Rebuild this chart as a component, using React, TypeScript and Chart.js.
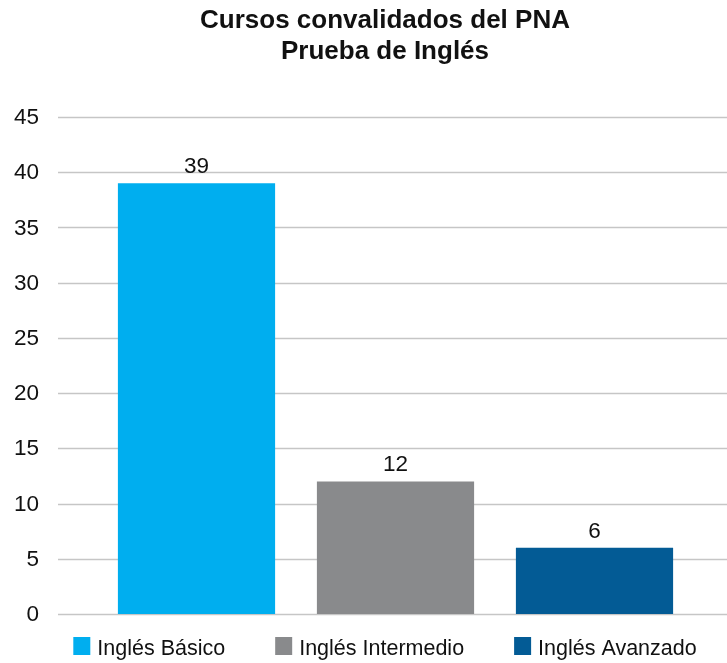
import React, { useEffect, useRef } from "react";
import { Chart, registerables } from "chart.js";

Chart.register(...registerables);

const titleLines = ["Cursos convalidados del PNA", "Prueba de Inglés"];
const categories = ["Inglés Básico", "Inglés Intermedio", "Inglés Avanzado"];
const values = [39, 12, 6];
const barColors = ["#00AEEF", "#898A8C", "#035B95"];
const yMin = 0;
const yMax = 45;
const yStep = 5;

const FONT = "'Liberation Sans', Arial, sans-serif";
const TEXT = "#111111";

// y grid lines (extending past the plot) and y tick labels, placed by the y scale
const axisPlugin = {
  id: "axisDecor",
  beforeDatasetsDraw(chart: any) {
    const y = chart.scales.y;
    const { ctx, chartArea } = chart;
    ctx.save();
    ctx.strokeStyle = "#C6C6C6";
    ctx.lineWidth = 1.5;
    y.ticks.forEach((t: any) => {
      const py = Math.round(y.getPixelForValue(t.value)) + 0.5;
      ctx.beginPath();
      ctx.moveTo(chartArea.left - 39, py);
      ctx.lineTo(chart.width, py);
      ctx.stroke();
    });
    ctx.font = `22.5px ${FONT}`;
    ctx.fillStyle = TEXT;
    ctx.textAlign = "right";
    ctx.textBaseline = "middle";
    y.ticks.forEach((t: any) => {
      const py = y.getPixelForValue(t.value);
      ctx.fillText(String(t.value), chartArea.left - 58, py + 1);
    });
    ctx.restore();
  },
};

const labelPlugin = {
  id: "barValueLabels",
  afterDatasetsDraw(chart: any) {
    const { ctx } = chart;
    const meta = chart.getDatasetMeta(0);
    ctx.save();
    ctx.font = `22.5px ${FONT}`;
    ctx.fillStyle = TEXT;
    ctx.textAlign = "center";
    ctx.textBaseline = "alphabetic";
    meta.data.forEach((bar: any, i: number) => {
      ctx.fillText(String(values[i]), bar.x, bar.y - 10);
    });
    ctx.restore();
  },
};

// legend row drawn under the plot, centred like the title
const legendPlugin = {
  id: "bottomLegend",
  afterDraw(chart: any) {
    const { ctx, chartArea } = chart;
    const tb = chart.titleBlock;
    const cx = tb ? (tb.left + tb.right) / 2 : chart.width / 2;
    const box = 17;
    const gapText = 7;
    const gapItem = 50;
    ctx.save();
    ctx.font = `21.5px ${FONT}`;
    const widths = categories.map((c) => ctx.measureText(c).width);
    const total =
      widths.reduce((a, w) => a + box + gapText + w, 0) + gapItem * (categories.length - 1);
    let x = cx - total / 2;
    const top = chartArea.bottom + 23;
    categories.forEach((c, i) => {
      ctx.fillStyle = barColors[i];
      ctx.fillRect(x, top, box, box + 1);
      ctx.fillStyle = TEXT;
      ctx.textAlign = "left";
      ctx.textBaseline = "alphabetic";
      ctx.fillText(c, x + box + gapText, top + 18);
      x += box + gapText + widths[i] + gapItem;
    });
    ctx.restore();
  },
};

export default function App() {
  const ref = useRef<HTMLCanvasElement>(null);
  useEffect(() => {
    if (!ref.current) return;
    const chart = new Chart(ref.current, {
      type: "bar",
      data: {
        labels: categories,
        datasets: [
          {
            data: values,
            backgroundColor: barColors,
            borderWidth: 0,
            categoryPercentage: 0.79,
            barPercentage: 1,
          },
        ],
      },
      options: {
        responsive: false,
        animation: false,
        layout: { padding: { left: 43, right: 0, top: 0, bottom: 49 } },
        plugins: {
          tooltip: { enabled: false },
          legend: { display: false },
          title: {
            display: true,
            text: titleLines,
            color: TEXT,
            font: { family: FONT, size: 26, weight: "bold", lineHeight: 1.17 },
            padding: { top: 6, bottom: 50 },
          },
        },
        scales: {
          x: { display: false },
          y: {
            min: yMin,
            max: yMax,
            afterFit: (scale: any) => {
              scale.width = 54;
            },
            ticks: { stepSize: yStep, display: false },
            grid: { display: false, drawTicks: false },
            border: { display: false },
          },
          yRight: {
            type: "linear",
            position: "right",
            min: yMin,
            max: yMax,
            afterFit: (scale: any) => {
              scale.width = 33;
            },
            ticks: { display: false },
            grid: { display: false, drawTicks: false },
            border: { display: false },
          },
        },
      },
      plugins: [axisPlugin, labelPlugin, legendPlugin],
    });
    return () => chart.destroy();
  }, []);
  return (
    <div style={{ position: "absolute", left: 0, top: 0, width: 727, height: 663, background: "#fff" }}>
      <canvas ref={ref} width={727} height={663} />
    </div>
  );
}
